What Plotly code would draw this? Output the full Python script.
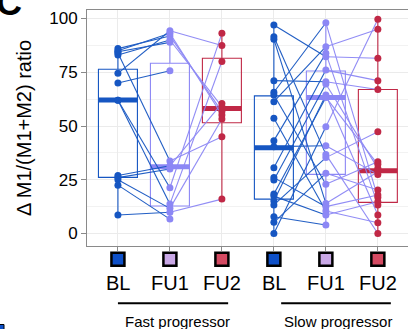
import plotly.graph_objects as go

# ---------------- data ----------------
time_labels = ["BL", "FU1", "FU2", "BL", "FU1", "FU2"]
group_labels = ["Fast progressor", "Slow progressor"]

# patient-level values (None = no measurement)
fast_bl = [86, 85, 84, 83, 74.5, 70, 62, 62, 27, 26, 25, 22.5, 8.6, 84.5]
fast_fu1 = [91.9, 93.1, 33.7, 90.0, 94.3, 75.7, 21.3, 13.7, 31.5, 30.0, 11.7, 6.7, 9.9, 88.9]
fast_fu2 = [56.7, 55.1, 45, 59, 87.4, None, 93.1, 80, 60.5, None, 53.3, None, 16, None]

slow_bl = [97, 91.5, 90.3, 71.1, 65.7, 64.4, 61.3, 53.6, 43.2, 40.4,
           30.6, 26, 24.9, 18.4, 17.4, 15.1, 13.3, 7.8, 5.2, 0]
slow_fu1 = [82.2, 36.8, 14, 70.6, 98, 22.9, 86.9, 10.5, 83.8, 40.8,
            76, 12.5, 69.5, 63.3, 8.6, 64.4, 35.3, 4, 28, 49.7]
slow_fu2 = [81.5, 0, 28.7, 67, 16.7, 33.4, 95, 5, 13.3, 27.5,
            71.1, 17.9, 30.3, 32.2, 14.8, 8.6, 47.3, None, 20.2, 99.6]

# box statistics (positions 1..6)
box_q1 = [26.1, 12.8, 51.5, 16.0, 27.5, 14.5]
box_med = [62.1, 31.1, 58.2, 39.9, 63.3, 29.2]
box_q3 = [76.4, 79.2, 81.5, 64.0, 75.6, 67.0]
box_lo = [8.6, 6.7, 16.0, 0.0, 4.0, 0.0]
box_hi = [86.0, 94.3, 93.1, 97.0, 98.0, 99.6]

# ---------------- style ----------------
C_BL = "#1656C2"
C_FU1 = "#8C87F5"
C_FU2 = "#C02846"
point_colors = [C_BL, C_FU1, C_FU2]
legend_fill = ["#0E50C8", "#C9A8E6", "#D44A62"]
BOX_W = 0.75
FONT = "Liberation Sans, Arial, sans-serif"

W, H = 408, 329
ML, MR, MT, MB = 87, 0, 10, 83
PW, PH = W - ML - MR, H - MT - MB


def pyp(ypx):  # pixel-from-top -> paper y
    return (H - MB - ypx) / PH


def pxp(xpx):  # pixel-from-left -> paper x
    return (xpx - ML) / PW


fig = go.Figure()

# boxes
for i in range(6):
    col = point_colors[i % 3]
    fig.add_trace(go.Box(
        x=[i + 1], q1=[box_q1[i]], median=[box_med[i]], q3=[box_q3[i]],
        lowerfence=[box_lo[i]], upperfence=[box_hi[i]],
        width=BOX_W, whiskerwidth=0, boxpoints=False,
        fillcolor="rgba(0,0,0,0)", line=dict(color=col, width=1.1),
        hoverinfo="skip", showlegend=False))
    fig.add_trace(go.Scatter(
        x=[i + 1 - BOX_W / 2, i + 1 + BOX_W / 2], y=[box_med[i], box_med[i]],
        mode="lines", line=dict(color=col, width=5), hoverinfo="skip",
        showlegend=False))

# spaghetti lines
groups = [(fast_bl, fast_fu1, fast_fu2, 1), (slow_bl, slow_fu1, slow_fu2, 4)]
for bl, f1, f2, base in groups:
    series = [bl, f1, f2]
    for seg in range(2):
        xs, ys = [], []
        a, b = series[seg], series[seg + 1]
        for va, vb in zip(a, b):
            if va is None or vb is None:
                continue
            xs += [base + seg, base + seg + 1, None]
            ys += [va, vb, None]
        fig.add_trace(go.Scatter(
            x=xs, y=ys, mode="lines",
            line=dict(color=point_colors[seg], width=1.1),
            opacity=0.95, hoverinfo="skip", showlegend=False))

# points
for bl, f1, f2, base in groups:
    for k, s in enumerate([bl, f1, f2]):
        vals = [v for v in s if v is not None]
        fig.add_trace(go.Scatter(
            x=[base + k] * len(vals), y=vals, mode="markers",
            marker=dict(color=point_colors[k], size=7, line=dict(width=0)),
            hoverinfo="skip", showlegend=False))

# legend-like squares and labels under the axis
shapes = []
annotations = []
for i, lab in enumerate(time_labels):
    shapes.append(dict(
        type="rect", xref="x", yref="paper", xsizemode="pixel",
        ysizemode="pixel", xanchor=i + 1, yanchor=pyp(259.3),
        x0=-6.5, x1=6.5, y0=-6.5, y1=6.5,
        fillcolor=legend_fill[i % 3], line=dict(color="black", width=2.5)))
    annotations.append(dict(
        x=i + 1, xref="x", y=pyp(282.5), yref="paper", text=lab,
        showarrow=False, xanchor="center", yanchor="middle",
        font=dict(family=FONT, size=20, color="black")))

group_spans = [(1.0, 3.12), (4.14, 6.25)]
group_text_x = [2.14, 5.23]
for (x0, x1), tx, g in zip(group_spans, group_text_x, group_labels):
    shapes.append(dict(type="line", xref="x", yref="paper", x0=x0, x1=x1,
                       y0=pyp(303.3), y1=pyp(303.3),
                       line=dict(color="black", width=2)))
    annotations.append(dict(
        x=tx, xref="x", y=pyp(321), yref="paper", text=g, showarrow=False,
        xanchor="center", yanchor="middle",
        font=dict(family=FONT, size=15, color="black")))

# panel letter (cropped) and cropped neighbour artefact
annotations.append(dict(
    x=pxp(9), xref="paper", y=pyp(2), yref="paper", text="<b>C</b>",
    showarrow=False, xanchor="center", yanchor="middle",
    font=dict(family=FONT, size=36, color="black")))
shapes.append(dict(type="rect", xref="paper", yref="paper",
                   x0=pxp(-3), x1=pxp(4), y0=pyp(331), y1=pyp(324.5),
                   fillcolor="#0E50C8", line=dict(color="black", width=1)))

fig.update_layout(
    width=W, height=H,
    margin=dict(l=ML, r=MR, t=MT, b=MB),
    paper_bgcolor="white", plot_bgcolor="white",
    shapes=shapes, annotations=annotations,
    font=dict(family=FONT, color="black"),
    xaxis=dict(range=[0.405, 6.58], tickvals=[1, 2, 3, 4, 5, 6],
               ticktext=[""] * 6, showgrid=True, gridcolor="#EBEBEB",
               gridwidth=1, zeroline=False, showline=True,
               linecolor="#8a8a8a", linewidth=1, mirror=True,
               ticks="outside", ticklen=4, tickcolor="#8a8a8a"),
    yaxis=dict(range=[-5.8, 103.95], tickvals=[0, 25, 50, 75, 100],
               showgrid=True, gridcolor="#EBEBEB", gridwidth=1,
               minor=dict(tickvals=[12.5, 37.5, 62.5, 87.5], showgrid=True,
                          gridcolor="#F2F2F2", gridwidth=1),
               zeroline=False, showline=True, linecolor="#8a8a8a",
               linewidth=1, ticks="outside", ticklen=5, tickcolor="#8a8a8a",
               tickfont=dict(family=FONT, size=17, color="black"),
               title=dict(text="Δ M1/(M1+M2) ratio",
                          font=dict(family=FONT, size=20, color="black"),
                          standoff=12)),
)

fig.write_html("out.html")
